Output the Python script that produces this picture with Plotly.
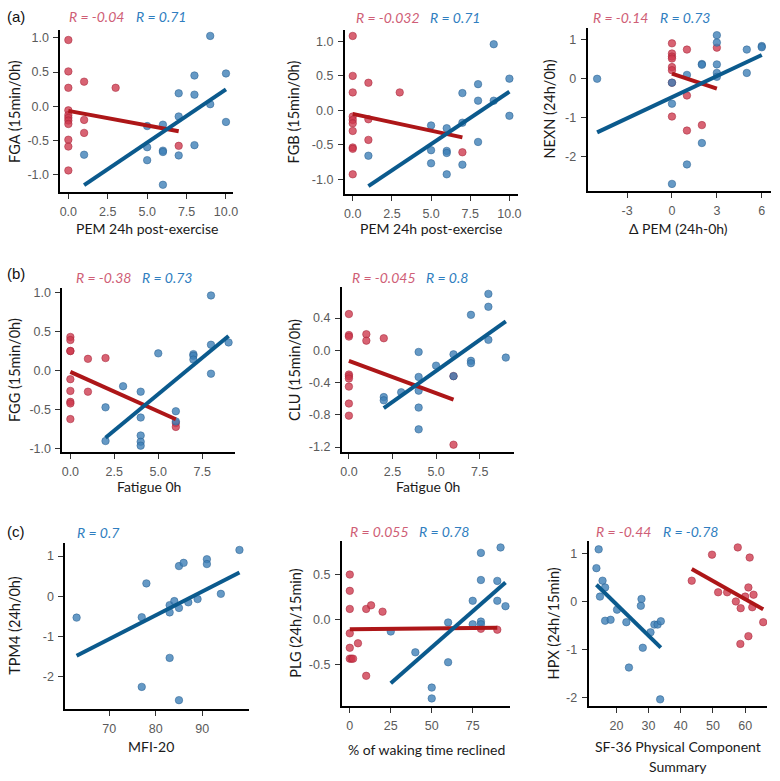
import numpy as np
import plotly.graph_objects as go

# ---------------- data ----------------
# (a) FGA vs PEM 24h post-exercise
FGA_red_x = [0, 0, 0, 0, 0, 0, 0, 0, 0, 0, 0, 1, 1, 1, 3, 7]
FGA_red_y = [0.97, 0.51, 0.27, -0.06, -0.13, -0.17, -0.21, -0.26, -0.49, -0.59, -0.94, 0.36, -0.2, -0.39, 0.27, -0.58]
FGA_blue_x = [1, 5, 5, 5, 6, 6, 6, 6, 7, 7, 7, 8, 8, 8, 9, 9, 10, 10]
FGA_blue_y = [-0.71, -0.29, -0.6, -0.79, -0.27, -0.65, -0.67, -1.15, 0.19, -0.15, -0.72, 0.45, 0.17, -0.57, 1.03, 0.03, 0.48, -0.23]

# (a) FGB vs PEM 24h post-exercise
FGB_red_x = [0, 0, 0, 0, 0, 0, 0, 0, 0, 0, 1, 1, 1, 3, 7]
FGB_red_y = [1.08, 0.5, 0.26, -0.09, -0.14, -0.19, -0.3, -0.54, -0.56, -0.93, 0.4, -0.13, -0.43, 0.26, -0.61]
FGB_blue_x = [1, 5, 5, 5, 6, 6, 6, 6, 7, 7, 7, 8, 8, 8, 9, 9, 10, 10]
FGB_blue_y = [-0.66, -0.22, -0.58, -0.77, -0.26, -0.59, -0.62, -0.93, 0.25, -0.18, -0.79, 0.38, 0.14, -0.46, 0.96, 0.14, 0.46, -0.08]

# (a) NEXN vs delta PEM
NEXN_red_x = [0, 0, 0, 0, 0, 0, 0, 0, 1, 1, 1, 2, 3]
NEXN_red_y = [0.91, 0.65, 0.57, 0.52, 0.3, 0.22, -0.1, -0.97, 0.75, -0.43, -1.33, -1.19, 0.8]
NEXN_blue_x = [-5, 0, 0, 0, 1, 1, 2, 2, 2, 3, 3, 3, 3, 3, 5, 5, 6, 6]
NEXN_blue_y = [0.0, -0.1, -0.64, -2.7, 0.1, -2.2, 0.38, 0.36, -1.65, 1.12, 0.93, 0.37, 0.15, 0.05, 0.75, 0.15, 0.84, 0.81]

# (b) FGG vs Fatigue 0h
FGG_red_x = [0, 0, 0, 0, 0, 0, 0, 0, 0, 1, 1, 2, 6, 6]
FGG_red_y = [0.43, 0.39, 0.25, 0.25, -0.11, -0.26, -0.4, -0.42, -0.62, 0.15, -0.27, 0.16, -0.67, -0.72]
FGG_blue_x = [2, 2, 3, 4, 4, 4, 4, 4, 5, 6, 6, 7, 7, 7, 8, 8, 8, 9]
FGG_blue_y = [-0.47, -0.9, -0.2, -0.27, -0.6, -0.83, -0.91, -0.96, 0.22, -0.52, -0.65, 0.21, 0.19, 0.14, 0.96, 0.33, -0.04, 0.36]

# (b) CLU vs Fatigue 0h
CLU_red_x = [0, 0, 0, 0, 0, 0, 0, 0, 0, 1, 1, 2, 6, 6]
CLU_red_y = [0.45, 0.19, 0.17, -0.3, -0.32, -0.35, -0.45, -0.66, -0.81, 0.2, 0.12, 0.15, -0.32, -1.17]
CLU_blue_x = [2, 2, 3, 4, 4, 4, 4, 4, 5, 6, 6, 7, 7, 7, 8, 8, 8, 9]
CLU_blue_y = [-0.58, -0.62, -0.52, -0.02, -0.33, -0.5, -0.71, -0.98, -0.19, -0.05, -0.32, 0.44, -0.13, -0.16, 0.7, 0.54, 0.13, -0.09]

# (c) TPM4 vs MFI-20
TPM4_blue_x = [63, 77, 78, 83, 83, 84, 85, 86, 85, 87, 89, 91, 91, 94, 98, 83, 77, 85]
TPM4_blue_y = [-0.53, -0.52, 0.32, -0.22, -0.4, -0.12, 0.75, 0.83, -0.29, -0.15, -0.07, 0.92, 0.8, 0.06, 1.15, -1.53, -2.25, -2.58]

# (c) PLG vs % of waking time reclined
PLG_red_x = [0, 0, 0, 0, 0, 0, 1, 2, 5, 10, 13, 20, 10, 80, 90]
PLG_red_y = [0.5, 0.32, 0.12, -0.15, -0.31, -0.43, -0.43, -0.43, -0.26, 0.12, 0.16, 0.09, -0.62, -0.1, -0.11]
PLG_blue_x = [25, 40, 50, 50, 60, 60, 75, 75, 80, 80, 80, 80, 90, 90, 92, 95]
PLG_blue_y = [-0.13, -0.36, -0.75, -0.87, -0.03, -0.47, 0.21, -0.05, 0.74, 0.44, -0.02, -0.05, 0.43, 0.21, 0.8, 0.15]

# (c) HPX vs SF-36 PCS
HPX_red_x = [43.4, 49.7, 51.6, 54.4, 57.1, 57.7, 58.6, 58.5, 60, 61, 61, 61.4, 62.2, 62.6, 65.6]
HPX_red_y = [0.43, 0.97, 0.19, 0.19, 0.0, 1.12, -0.14, -0.88, 0.1, 0.29, -0.72, 0.91, -0.12, 0.14, -0.43]
HPX_blue_x = [13.8, 14.5, 14.9, 15.7, 16.5, 16.5, 18.2, 20.2, 23.1, 23.9, 27.8, 27.6, 28.2, 30.6, 31.8, 32.8, 33.8, 33.6]
HPX_blue_y = [0.69, 1.08, 0.1, 0.43, 0.29, -0.4, -0.38, -0.17, -0.43, -1.37, 0.05, -0.09, -0.96, -0.64, -0.48, -0.48, -0.41, -2.03]

# tick labels
TICKS_PEM = [0, 2.5, 5, 7.5, 10]
TICKS_PEM_TXT = ["0.0", "2.5", "5.0", "7.5", "10.0"]
TICKS_Y1 = [-1, -0.5, 0, 0.5, 1]
TICKS_Y1_TXT = ["-1.0", "-0.5", "0.0", "0.5", "1.0"]
TICKS_DPEM = [-3, 0, 3, 6]
TICKS_DPEM_TXT = ["-3", "0", "3", "6"]
TICKS_NEXN = [-2, -1, 0, 1]
TICKS_NEXN_TXT = ["-2", "-1", "0", "1"]
TICKS_FAT = [0, 2.5, 5, 7.5]
TICKS_FAT_TXT = ["0.0", "2.5", "5.0", "7.5"]
TICKS_CLU = [-1.2, -0.8, -0.4, 0, 0.4]
TICKS_CLU_TXT = ["-1.2", "-0.8", "-0.4", "0.0", "0.4"]
TICKS_MFI = [70, 80, 90]
TICKS_MFI_TXT = ["70", "80", "90"]
TICKS_REC = [0, 25, 50, 75]
TICKS_REC_TXT = ["0", "25", "50", "75"]
TICKS_PLG = [-0.5, 0, 0.5]
TICKS_PLG_TXT = ["-0.5", "0.0", "0.5"]
TICKS_SF = [20, 30, 40, 50, 60]
TICKS_SF_TXT = ["20", "30", "40", "50", "60"]

R_RED = ["R = -0.04", "R = -0.032", "R = -0.14", "R = -0.38", "R = -0.045", None, "R = 0.055", "R = -0.44"]
R_BLUE = ["R = 0.71", "R = 0.71", "R = 0.73", "R = 0.73", "R = 0.8", "R = 0.7", "R = 0.78", "R = -0.78"]

# ---------------- styling ----------------
W, H = 780, 781
RED_PT = "rgba(205,55,75,0.78)"
RED_EDGE = "rgba(165,35,55,0.85)"
BLUE_PT = "rgba(62,128,182,0.8)"
BLUE_EDGE = "rgba(40,95,145,0.85)"
RED_LINE = "#ad1618"
BLUE_LINE = "#0b5a8d"
RED_TXT = "#cf5e76"
BLUE_TXT = "#2f7ec0"
TICK_FONT = dict(family="Liberation Sans, Arial", size=12.5, color="#5a5a5a")
XTITLE_FONT = dict(family="Lato, Open Sans, sans-serif", size=14, color="#1a1a1a")
YTITLE_FONT = dict(family="Lato, Open Sans, sans-serif", size=14.5, color="#1a1a1a")
R_FONT_FAM = "Lato, Open Sans, sans-serif"

def px2x(px):
    return px / W

def px2y(py):
    return 1 - py / H

panels = [
    dict(red=(FGA_red_x, FGA_red_y), blue=(FGA_blue_x, FGA_blue_y), box=(59, 233, 27, 191),
         xr=(-0.5, 10.44), yr=(-1.26, 1.12), xt=(TICKS_PEM, TICKS_PEM_TXT), yt=(TICKS_Y1, TICKS_Y1_TXT),
         ytitle="FGA (15min/0h)", ytx=12, xtitle=["PEM 24h post-exercise"], xty=228, xtx=146,
         rpos=(66, 133), ry=14),
    dict(red=(FGB_red_x, FGB_red_y), blue=(FGB_blue_x, FGB_blue_y), box=(346, 521, 27, 193),
         xr=(-0.5, 10.57), yr=(-1.22, 1.17), xt=(TICKS_PEM, TICKS_PEM_TXT), yt=(TICKS_Y1, TICKS_Y1_TXT),
         ytitle="FGB (15min/0h)", ytx=294, xtitle=["PEM 24h post-exercise"], xty=228, xtx=433,
         rpos=(355, 430), ry=15),
    dict(red=(NEXN_red_x, NEXN_red_y), blue=(NEXN_blue_x, NEXN_blue_y), box=(591, 776, 25, 190),
         xr=(-5.63, 6.62), yr=(-2.89, 1.31), xt=(TICKS_DPEM, TICKS_DPEM_TXT), yt=(TICKS_NEXN, TICKS_NEXN_TXT),
         ytitle="NEXN (24h/0h)", ytx=552, xtitle=["Δ PEM (24h-0h)"], xty=228, xtx=683,
         rpos=(594, 662), ry=15),
    dict(red=(FGG_red_x, FGG_red_y), blue=(FGG_blue_x, FGG_blue_y), box=(61, 235, 288, 453),
         xr=(-0.45, 9.36), yr=(-1.04, 1.05), xt=(TICKS_FAT, TICKS_FAT_TXT), yt=(TICKS_Y1, TICKS_Y1_TXT),
         ytitle="FGG (15min/0h)", ytx=12, xtitle=["Fatigue 0h"], xty=488, xtx=148,
         rpos=(73, 139), ry=277),
    dict(red=(CLU_red_x, CLU_red_y), blue=(CLU_blue_x, CLU_blue_y), box=(343, 517, 287, 453),
         xr=(-0.4, 9.49), yr=(-1.26, 0.78), xt=(TICKS_FAT, TICKS_FAT_TXT), yt=(TICKS_CLU, TICKS_CLU_TXT),
         ytitle="CLU (15min/0h)", ytx=295, xtitle=["Fatigue 0h"], xty=488, xtx=430,
         rpos=(351, 426), ry=277),
    dict(red=None, blue=(TPM4_blue_x, TPM4_blue_y), box=(64, 249, 545, 712),
         xr=(60.6, 100.0), yr=(-2.79, 1.32), xt=(TICKS_MFI, TICKS_MFI_TXT), yt=(TICKS_NEXN, TICKS_NEXN_TXT),
         ytitle="TPM4 (24h/0h)", ytx=13, xtitle=["MFI-20"], xty=750, xtx=150,
         rpos=(None, 74), ry=534),
    dict(red=(PLG_red_x, PLG_red_y), blue=(PLG_blue_x, PLG_blue_y), box=(343, 513, 543, 709),
         xr=(-4.8, 98.0), yr=(-0.95, 0.87), xt=(TICKS_REC, TICKS_REC_TXT), yt=(TICKS_PLG, TICKS_PLG_TXT),
         ytitle="PLG (24h/15min)", ytx=296, xtitle=["% of waking time reclined"], xty=753, xtx=428,
         rpos=(349, 419), ry=533),
    dict(red=(HPX_red_x, HPX_red_y), blue=(HPX_blue_x, HPX_blue_y), box=(592, 772, 543, 709),
         xr=(11.4, 66.8), yr=(-2.16, 1.25), xt=(TICKS_SF, TICKS_SF_TXT), yt=(TICKS_NEXN, TICKS_NEXN_TXT),
         ytitle="HPX (24h/15min)", ytx=556, xtitle=["SF-36 Physical Component", "Summary"], xty=750, xtx=682,
         rpos=(597, 665), ry=533),
]

fig = go.Figure()
annotations = []


def fit_line(x, y):
    x = np.asarray(x, float)
    y = np.asarray(y, float)
    m, b = np.polyfit(x, y, 1)
    xs = np.array([x.min(), x.max()])
    return xs, m * xs + b


for i, p in enumerate(panels):
    n = i + 1
    xa = "x" if n == 1 else f"x{n}"
    ya = "y" if n == 1 else f"y{n}"
    groups = []
    if p["red"] is not None:
        groups.append((p["red"], RED_PT, RED_EDGE, RED_LINE))
    groups.append((p["blue"], BLUE_PT, BLUE_EDGE, BLUE_LINE))
    for (gx, gy), c, e, lc in groups:
        fig.add_trace(go.Scatter(x=gx, y=gy, mode="markers", xaxis=xa, yaxis=ya, showlegend=False,
                                 marker=dict(size=7.5, color=c, line=dict(width=0.6, color=e)),
                                 hoverinfo="skip"))
    for (gx, gy), c, e, lc in groups:
        lx, ly = fit_line(gx, gy)
        fig.add_trace(go.Scatter(x=lx, y=ly, mode="lines", xaxis=xa, yaxis=ya, showlegend=False,
                                 line=dict(color=lc, width=4), hoverinfo="skip"))

    x0, x1, y0, y1 = p["box"]
    axis_common = dict(showgrid=False, zeroline=False, showline=True, linecolor="black", linewidth=2,
                       ticks="outside", ticklen=5, tickwidth=1, tickcolor="#333333",
                       tickfont=TICK_FONT, fixedrange=True)
    fig.layout[f"xaxis{'' if n == 1 else n}"] = dict(
        axis_common, domain=[px2x(x0), px2x(x1)], range=list(p["xr"]), anchor=ya,
        tickvals=p["xt"][0], ticktext=p["xt"][1], ticklabelstandoff=2)
    fig.layout[f"yaxis{'' if n == 1 else n}"] = dict(
        axis_common, domain=[px2y(y1), px2y(y0)], range=list(p["yr"]), anchor=xa,
        tickvals=p["yt"][0], ticktext=p["yt"][1], ticklabelstandoff=2)

    # axis titles
    annotations.append(dict(text=p["ytitle"], x=px2x(p["ytx"]), y=px2y((y0 + y1) / 2), xref="paper",
                            yref="paper", textangle=-90, showarrow=False, xanchor="center",
                            yanchor="middle", font=YTITLE_FONT))
    for k, t in enumerate(p["xtitle"]):
        annotations.append(dict(text=t, x=px2x(p["xtx"]), y=px2y(p["xty"] + 20 * k), xref="paper",
                                yref="paper", showarrow=False, xanchor="center", yanchor="middle",
                                font=XTITLE_FONT))
    # R labels
    rx, bx = p["rpos"]
    if R_RED[i] is not None:
        annotations.append(dict(text=f"<i>{R_RED[i]}</i>", x=px2x(rx), y=px2y(p["ry"]), xref="paper",
                                yref="paper", showarrow=False, xanchor="left", yanchor="middle",
                                font=dict(family=R_FONT_FAM, size=14, color=RED_TXT)))
    annotations.append(dict(text=f"<i>{R_BLUE[i]}</i>", x=px2x(bx), y=px2y(p["ry"]), xref="paper",
                            yref="paper", showarrow=False, xanchor="left", yanchor="middle",
                            font=dict(family=R_FONT_FAM, size=14, color=BLUE_TXT)))

for lab, yy in [("(a)", 14), ("(b)", 273), ("(c)", 533)]:
    annotations.append(dict(text=lab, x=px2x(3), y=px2y(yy), xref="paper", yref="paper",
                            showarrow=False, xanchor="left", yanchor="middle",
                            font=dict(family="Liberation Sans, Arial", size=15, color="#111111")))

fig.update_layout(width=W, height=H, margin=dict(l=0, r=0, t=0, b=0), autosize=False,
                  paper_bgcolor="white", plot_bgcolor="white", annotations=annotations,
                  showlegend=False)

fig.write_html("out.html", config={"displayModeBar": False},
               post_script="document.body.style.margin='0';document.body.style.overflow='hidden';")
